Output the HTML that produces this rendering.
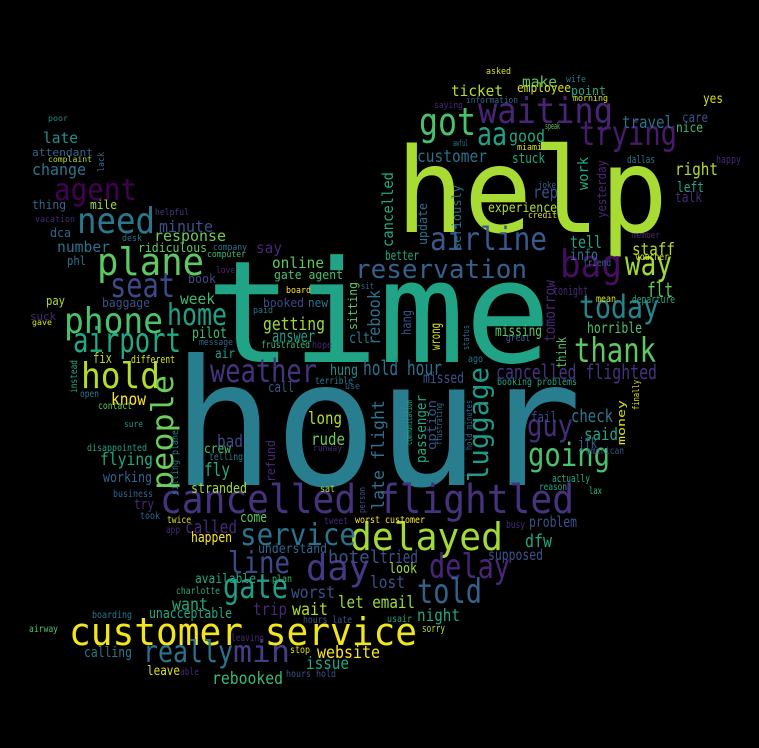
<!DOCTYPE html>
<html><head><meta charset="utf-8"><style>
html,body{margin:0;padding:0;background:#000;}
svg{display:block;}
text{font-family:"DejaVu Sans Mono","Liberation Mono",monospace;}
</style></head><body>
<svg id="cloud" width="759" height="748" viewBox="0 0 759 748" xmlns="http://www.w3.org/2000/svg">
<rect x="0" y="0" width="759" height="748" fill="#000"/>
</svg>
<script>
// horizontal words: [word, x, baseline, width, size, color]
const hWords = [
["hour",172,485,410,175,"#287d8e"],
["time",206,362,345,142,"#21a386"],
["help",396,232,272,118,"#a8db34"],
["cancelled flightled",160,513,414,40,"#46337e"],
["customer service",69,645,348,38,"#f1e51d"],
["delayed",350,550,153,38,"#a2da37"],
["waiting",478,123,135,36,"#482576"],
["got",419,135,57,38,"#4ac16d"],
["aa",477,145,30,32,"#1fa088"],
["trying",579,145,98,34,"#481b6d"],
["bag",560,277,62,38,"#470d60"],
["way",625,275,47,34,"#a0da39"],
["today",579,318,80,32,"#25858e"],
["thank",574,362,82,34,"#5ec962"],
["airline",430,250,117,32,"#38598c"],
["reservation",355,278,172,26,"#35608d"],
["guy",527,436,46,30,"#472c7a"],
["going",528,466,82,32,"#4ac16d"],
["delay",429,578,81,34,"#482677"],
["told",417,603,65,34,"#33638d"],
["day",306,580,64,36,"#443983"],
["line",228,573,62,30,"#3e4989"],
["gate",223,598,65,34,"#1f9e89"],
["service",240,545,116,30,"#2c728e"],
["really",143,662,90,30,"#2c728e"],
["min",233,662,57,30,"#433e85"],
["need",77,233,78,36,"#2a788e"],
["agent",54,200,83,30,"#440154"],
["plane",97,275,107,38,"#5ec962"],
["seat",110,297,65,34,"#3e4989"],
["phone",64,333,99,36,"#4ac16d"],
["home",167,325,60,30,"#1fa188"],
["airport",73,352,108,34,"#22a884"],
["hold",81,388,79,36,"#b5de2b"],
["weather",210,382,107,32,"#46337e"],
["poor",48,121,20,8,"#21918c"],
["late",43,143,35,15,"#21918c"],
["attendant",32,156,61,11,"#31668e"],
["complaint",48,162,44,8,"#b5de2b"],
["change",32,175,54,16,"#2a788e"],
["thing",32,209,34,12,"#31668e"],
["mile",90,209,27,12,"#a0da39"],
["helpful",155,215,34,9,"#443983"],
["vacation",35,222,40,9,"#482878"],
["minute",159,232,54,16,"#3b528b"],
["dca",50,237,21,12,"#31668e"],
["desk",122,241,20,9,"#2a788e"],
["response",154,241,72,15,"#6ccd5a"],
["number",57,252,53,15,"#2c728e"],
["ridiculous",138,252,69,12,"#5ec962"],
["company",213,250,34,9,"#2a788e"],
["computer",207,257,39,9,"#3bbb75"],
["say",256,253,26,15,"#482878"],
["phl",67,265,19,12,"#2c728e"],
["online",272,268,52,15,"#5ec962"],
["love",216,273,19,9,"#482878"],
["gate agent",274,279,69,12,"#4ac16d"],
["book",188,283,28,12,"#3e4989"],
["board",286,293,25,9,"#fde725"],
["sit",361,289,13,9,"#31668e"],
["pay",46,305,19,12,"#b5de2b"],
["baggage",102,307,48,12,"#3b528b"],
["week",180,304,35,15,"#3bbb75"],
["booked",263,307,41,12,"#3e4989"],
["new",308,307,20,12,"#2c728e"],
["suck",30,320,26,11,"#482878"],
["gave",32,325,20,8,"#d8e219"],
["getting",263,330,62,18,"#a0da39"],
["paid",253,313,20,9,"#2a788e"],
["pilot",192,338,35,15,"#3bbb75"],
["answer",272,342,43,17,"#1fa088"],
["clt",349,343,21,15,"#2a788e"],
["message",199,345,34,9,"#31668e"],
["frustrated",261,348,49,10,"#3bbb75"],
["hope",312,348,20,10,"#482878"],
["air",215,358,20,13,"#1fa088"],
["fix",93,363,19,14,"#b5de2b"],
["different",131,363,44,11,"#d8e219"],
["hung",330,375,28,15,"#21918c"],
["terrible",315,384,38,10,"#2a788e"],
["use",345,389,15,9,"#31668e"],
["call",268,392,26,14,"#3b528b"],
["open",80,397,19,10,"#2a788e"],
["know",111,405,35,17,"#fde725"],
["contact",98,409,34,10,"#5ec962"],
["sure",124,427,19,9,"#21918c"],
["long",308,424,34,17,"#b5de2b"],
["rude",311,445,34,17,"#6ccd5a"],
["bad",217,447,26,17,"#3e4989"],
["disappointed",87,451,60,10,"#1fa088"],
["crew",204,453,27,13,"#4ac16d"],
["runway",313,451,29,9,"#482878"],
["telling",209,460,34,10,"#2a788e"],
["flying",100,465,53,17,"#22a884"],
["fly",204,476,26,19,"#22a884"],
["working",103,482,49,14,"#31668e"],
["stranded",191,493,56,14,"#a0da39"],
["sat",320,492,15,10,"#b5de2b"],
["business",113,497,40,10,"#31668e"],
["try",134,509,20,14,"#482878"],
["took",140,519,20,10,"#31668e"],
["twice",167,523,24,10,"#d8e219"],
["come",240,522,27,14,"#5ec962"],
["tweet",324,524,24,10,"#482878"],
["worst customer",355,523,70,10,"#fde725"],
["app",166,533,14,10,"#482878"],
["called",185,533,52,18,"#482878"],
["happen",191,542,41,14,"#fde725"],
["understand",258,553,69,13,"#31668e"],
["hotel",328,563,52,18,"#3b528b"],
["tried",380,563,38,18,"#3b528b"],
["available",195,583,61,13,"#22a884"],
["plan",272,582,20,10,"#3bbb75"],
["charlotte",176,594,44,10,"#22a884"],
["worst",291,598,44,17,"#3b528b"],
["want",172,610,36,17,"#22a884"],
["let email",338,608,77,17,"#a0da39"],
["trip",253,615,34,17,"#482878"],
["wait",292,615,36,17,"#b5de2b"],
["unacceptable",149,618,83,14,"#22a884"],
["boarding",92,618,40,10,"#2a788e"],
["hours late",303,623,49,10,"#3b528b"],
["airway",29,632,29,10,"#4ac16d"],
["leaving",231,641,33,10,"#482878"],
["stop",290,653,20,10,"#d8e219"],
["website",317,658,63,17,"#fde725"],
["calling",84,657,48,14,"#2a788e"],
["issue",306,669,43,17,"#22a884"],
["leave",147,675,33,13,"#d8e219"],
["able",180,675,19,10,"#482878"],
["rebooked",212,684,71,17,"#3bbb75"],
["hours hold",286,677,50,10,"#3b528b"],
["asked",486,74,25,9,"#d8e219"],
["make",522,87,35,15,"#5ec962"],
["wife",566,82,20,9,"#2a788e"],
["ticket",451,96,52,15,"#b5de2b"],
["employee",517,92,54,12,"#d8e219"],
["point",571,95,35,12,"#22a884"],
["information",466,103,52,9,"#31668e"],
["morning",573,101,35,9,"#d8e219"],
["saying",434,108,29,9,"#482878"],
["yes",703,103,20,13,"#d8e219"],
["travel",622,128,51,17,"#2c728e"],
["care",682,122,26,13,"#3b528b"],
["nice",676,132,27,13,"#3bbb75"],
["good",509,142,36,17,"#22a884"],
["awful",453,146,15,9,"#2a788e"],
["speak",545,129,15,9,"#5ec962"],
["miami",517,150,25,9,"#d8e219"],
["customer",417,162,70,17,"#2c728e"],
["stuck",512,163,33,14,"#22a884"],
["dallas",627,163,28,11,"#2a788e"],
["happy",716,163,25,11,"#482878"],
["right",675,175,43,17,"#b5de2b"],
["left",677,192,27,14,"#22a884"],
["talk",675,202,27,14,"#482878"],
["rep",533,198,25,17,"#3b528b"],
["joke",538,188,18,9,"#31668e"],
["experience",488,212,69,13,"#b5de2b"],
["credit",528,218,29,9,"#d8e219"],
["member",632,238,28,9,"#482878"],
["tell",570,248,32,17,"#22a884"],
["staff",632,255,43,17,"#b5de2b"],
["better",385,260,34,13,"#22a884"],
["info",570,260,28,15,"#2c728e"],
["voucher",635,260,34,10,"#d8e219"],
["friend",583,266,28,10,"#31668e"],
["flt",647,297,26,20,"#5ec962"],
["tonight",553,295,35,12,"#482878"],
["mean",596,302,20,10,"#d8e219"],
["departure",632,303,43,11,"#22a884"],
["missing",495,336,47,15,"#5ec962"],
["horrible",587,333,55,15,"#4ac16d"],
["great",506,341,24,10,"#31668e"],
["ago",468,362,15,10,"#2a788e"],
["hold hour",363,375,79,20,"#2c728e"],
["cancelled flighted",496,379,161,20,"#46337e"],
["missed",423,383,41,15,"#3b528b"],
["booking problems",497,385,80,10,"#22a884"],
["fail",531,422,26,14,"#3e4989"],
["check",571,422,42,18,"#2a788e"],
["said",584,440,34,17,"#22a884"],
["jfk",578,448,19,14,"#31668e"],
["american",586,454,38,10,"#3b528b"],
["actually",552,482,38,11,"#22a884"],
["reason",539,490,28,10,"#22a884"],
["lax",589,494,13,10,"#3bbb75"],
["problem",529,527,48,15,"#3b528b"],
["busy",506,528,19,11,"#482878"],
["dfw",525,547,27,18,"#22a884"],
["supposed",488,560,55,15,"#3b528b"],
["look",389,573,28,14,"#a0da39"],
["lost",370,588,35,17,"#3b528b"],
["night",417,621,43,17,"#22a884"],
["usair",387,622,25,10,"#22a884"],
["sorry",422,632,23,11,"#b5de2b"]
];
// vertical words: [word, baselineX, bottomY, length, size, color]
const vWords = [
["people",173,490,115,30,"#6ccd5a"],
["luggage",488,482,115,28,"#1f9a8a"],
["cancelled",393,247,75,15,"#22a884"],
["rebook",380,345,55,17,"#2c728e"],
["sitting",357,330,48,12,"#5ec962"],
["update",427,245,42,12,"#2c728e"],
["seriously",461,250,65,12,"#2c728e"],
["work",588,190,33,14,"#22a884"],
["yesterday",606,218,58,12,"#482878"],
["tomorrow",555,342,62,15,"#482878"],
["hang",411,335,25,13,"#3b528b"],
["wrong",440,350,27,13,"#d8e219"],
["status",469,350,25,9,"#31668e"],
["think",566,368,31,13,"#5ec962"],
["late flight",384,510,110,17,"#2c728e"],
["passenger",426,463,68,14,"#22a884"],
["option",436,450,50,12,"#3b528b"],
["communication",412,445,45,9,"#22a884"],
["frustrating",442,445,42,9,"#2a788e"],
["hold minutes",472,450,50,9,"#31668e"],
["refund",275,482,42,12,"#482878"],
["instead",77,393,33,10,"#22a884"],
["lack",104,172,20,9,"#31668e"],
["money",625,445,45,11,"#d8e219"],
["person",365,513,26,9,"#3b528b"],
["finally",639,410,30,9,"#d8e219"],
["sitting plane",178,495,65,10,"#2a788e"]
];
const svg = document.getElementById('cloud');
const NS = 'http://www.w3.org/2000/svg';
function slug(s){return s.replace(/\s+/g,'-');}
hWords.forEach(function(w){
  const t = document.createElementNS(NS,'text');
  t.setAttribute('x', w[1]);
  t.setAttribute('y', w[2]);
  t.setAttribute('font-size', w[4]);
  t.setAttribute('fill', w[5]);
  t.setAttribute('textLength', w[3]);
  t.setAttribute('lengthAdjust', 'spacingAndGlyphs');
  t.textContent = w[0];
  
  
  svg.appendChild(t);
});
vWords.forEach(function(w){
  const t = document.createElementNS(NS,'text');
  t.setAttribute('x', w[1]);
  t.setAttribute('y', w[2]);
  t.setAttribute('font-size', w[4]);
  t.setAttribute('fill', w[5]);
  t.setAttribute('textLength', w[3]);
  t.setAttribute('lengthAdjust', 'spacingAndGlyphs');
  t.setAttribute('transform', 'rotate(-90 ' + w[1] + ' ' + w[2] + ')');
  t.textContent = w[0];
  
  
  svg.appendChild(t);
});
</script>
</body></html>
